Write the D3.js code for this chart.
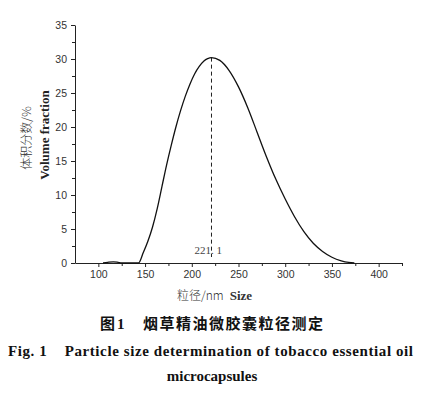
<!DOCTYPE html>
<html>
<head>
<meta charset="utf-8">
<script src="https://cdn.jsdelivr.net/npm/d3@7/dist/d3.min.js"></script>
<style>
  body { margin: 0; background: #fff; }
  svg { display: block; }
</style>
</head>
<body>
<svg id="chart"></svg>
<script>
// particle size (nm) and volume fraction (%)
const sizes = [105, 110, 116, 121, 125, 143, 148, 153, 158, 163, 168, 173, 178, 183, 188, 193, 198, 203, 208, 213, 217, 221.1,
  230, 240, 250, 260, 270, 280, 290, 300, 310, 320, 330, 340, 350, 360, 368, 374];
const fractions = [0, 0.1, 0.18, 0.1, 0, 0, 1.5, 3.2, 5.3, 8.0, 11.2, 14.4, 17.3, 20.0, 22.4, 24.5, 26.3, 27.8, 28.9, 29.7, 30.05, 30.2,
  29.8, 28.3, 25.9, 22.8, 19.2, 15.6, 12.3, 9.4, 6.8, 4.6, 2.9, 1.7, 0.85, 0.32, 0.08, 0];
const xTicks = [100, 150, 200, 250, 300, 350, 400];
const yTicks = [0, 5, 10, 15, 20, 25, 30, 35];
const peakSize = 221.1;
const peakValue = 30.2;

const width = 429;
const height = 395;
const plot = { left: 75, right: 402, top: 25, bottom: 263 };

const svg = d3.select("#chart")
  .attr("width", width)
  .attr("height", height);

const x = d3.scaleLinear().domain([75, 425]).range([plot.left, plot.right]);
const y = d3.scaleLinear().domain([0, 35]).range([plot.bottom, plot.top]);

// minor ticks first, then major ones with labels
svg.append("g")
  .attr("transform", `translate(0,${plot.bottom})`)
  .call(d3.axisBottom(x).tickValues(d3.range(125, 426, 50)).tickSize(3).tickFormat(""))
  .call(g => g.select(".domain").remove());
svg.append("g")
  .attr("transform", `translate(${plot.left},0)`)
  .call(d3.axisLeft(y).tickValues(d3.range(2.5, 35, 5)).tickSize(3).tickFormat(""))
  .call(g => g.select(".domain").remove());

const xAxis = svg.append("g")
  .attr("transform", `translate(0,${plot.bottom})`)
  .call(d3.axisBottom(x).tickValues(xTicks).tickSize(4).tickSizeOuter(0).tickPadding(4));
const yAxis = svg.append("g")
  .attr("transform", `translate(${plot.left},0)`)
  .call(d3.axisLeft(y).tickValues(yTicks).tickSize(4).tickSizeOuter(0).tickPadding(4));

svg.selectAll(".tick line, .domain").attr("stroke", "#222").attr("stroke-width", 1);
[xAxis, yAxis].forEach(a => a.selectAll("text")
  .attr("font-family", "Liberation Sans, Arial, sans-serif")
  .attr("font-size", 10.5)
  .attr("fill", "#333"));

// curve
const line = d3.line()
  .x(i => x(sizes[i]))
  .y(i => y(fractions[i]))
  .curve(d3.curveMonotoneX);

svg.append("path")
  .attr("d", line(d3.range(sizes.length)))
  .attr("fill", "none")
  .attr("stroke", "#111")
  .attr("stroke-width", 1.3);

// peak marker
svg.append("line")
  .attr("x1", x(peakSize)).attr("x2", x(peakSize))
  .attr("y1", y(peakValue)).attr("y2", y(0) - 6)
  .attr("stroke", "#222")
  .attr("stroke-width", 1)
  .attr("stroke-dasharray", "4,3");

svg.append("text")
  .attr("x", x(peakSize) - 17)
  .attr("y", 254)
  .attr("font-family", "Liberation Serif, serif")
  .attr("font-size", 11)
  .attr("fill", "#444")
  .text("221. 1");

// axis titles
svg.append("text")
  .attr("transform", "translate(31,138) rotate(-90)")
  .attr("text-anchor", "middle")
  .attr("font-family", "Noto Sans CJK SC, sans-serif")
  .attr("font-weight", 300)
  .attr("font-size", 12)
  .attr("fill", "#333")
  .text("体积分数/%");

svg.append("text")
  .attr("transform", "translate(49,135) rotate(-90)")
  .attr("text-anchor", "middle")
  .attr("font-family", "Liberation Serif, serif")
  .attr("font-weight", "bold")
  .attr("font-size", 13)
  .attr("fill", "#222")
  .text("Volume fraction");

const xTitle = svg.append("text")
  .attr("x", 177)
  .attr("y", 300)
  .attr("font-size", 12)
  .attr("fill", "#333");
xTitle.append("tspan")
  .attr("font-family", "Noto Sans CJK SC, sans-serif")
  .attr("font-weight", 300)
  .text("粒径/nm");
xTitle.append("tspan")
  .attr("dx", 6)
  .attr("font-family", "Liberation Serif, serif")
  .attr("font-weight", "bold")
  .attr("font-size", 13)
  .text("Size");

// caption
const cap1 = svg.append("g")
  .attr("font-family", "Noto Sans CJK SC, sans-serif")
  .attr("font-weight", "bold")
  .attr("font-size", 15)
  .attr("fill", "#111");
cap1.append("text").attr("x", 100).attr("y", 329).text("图");
cap1.append("text").attr("x", 117).attr("y", 329)
  .attr("font-family", "Liberation Serif, serif").text("1");
cap1.append("text").attr("x", 143).attr("y", 329)
  .attr("textLength", 180).attr("lengthAdjust", "spacing")
  .text("烟草精油微胶囊粒径测定");

svg.append("text")
  .attr("x", 8)
  .attr("y", 356)
  .attr("font-family", "Liberation Serif, serif")
  .attr("font-weight", "bold")
  .attr("font-size", 15)
  .attr("fill", "#111")
  .attr("textLength", 405)
  .attr("lengthAdjust", "spacing")
  .attr("xml:space", "preserve")
  .text("Fig. 1    Particle size determination of tobacco essential oil");

svg.append("text")
  .attr("x", 212)
  .attr("y", 381)
  .attr("text-anchor", "middle")
  .attr("font-family", "Liberation Serif, serif")
  .attr("font-weight", "bold")
  .attr("font-size", 15)
  .attr("fill", "#111")
  .text("microcapsules");
</script>
</body>
</html>
